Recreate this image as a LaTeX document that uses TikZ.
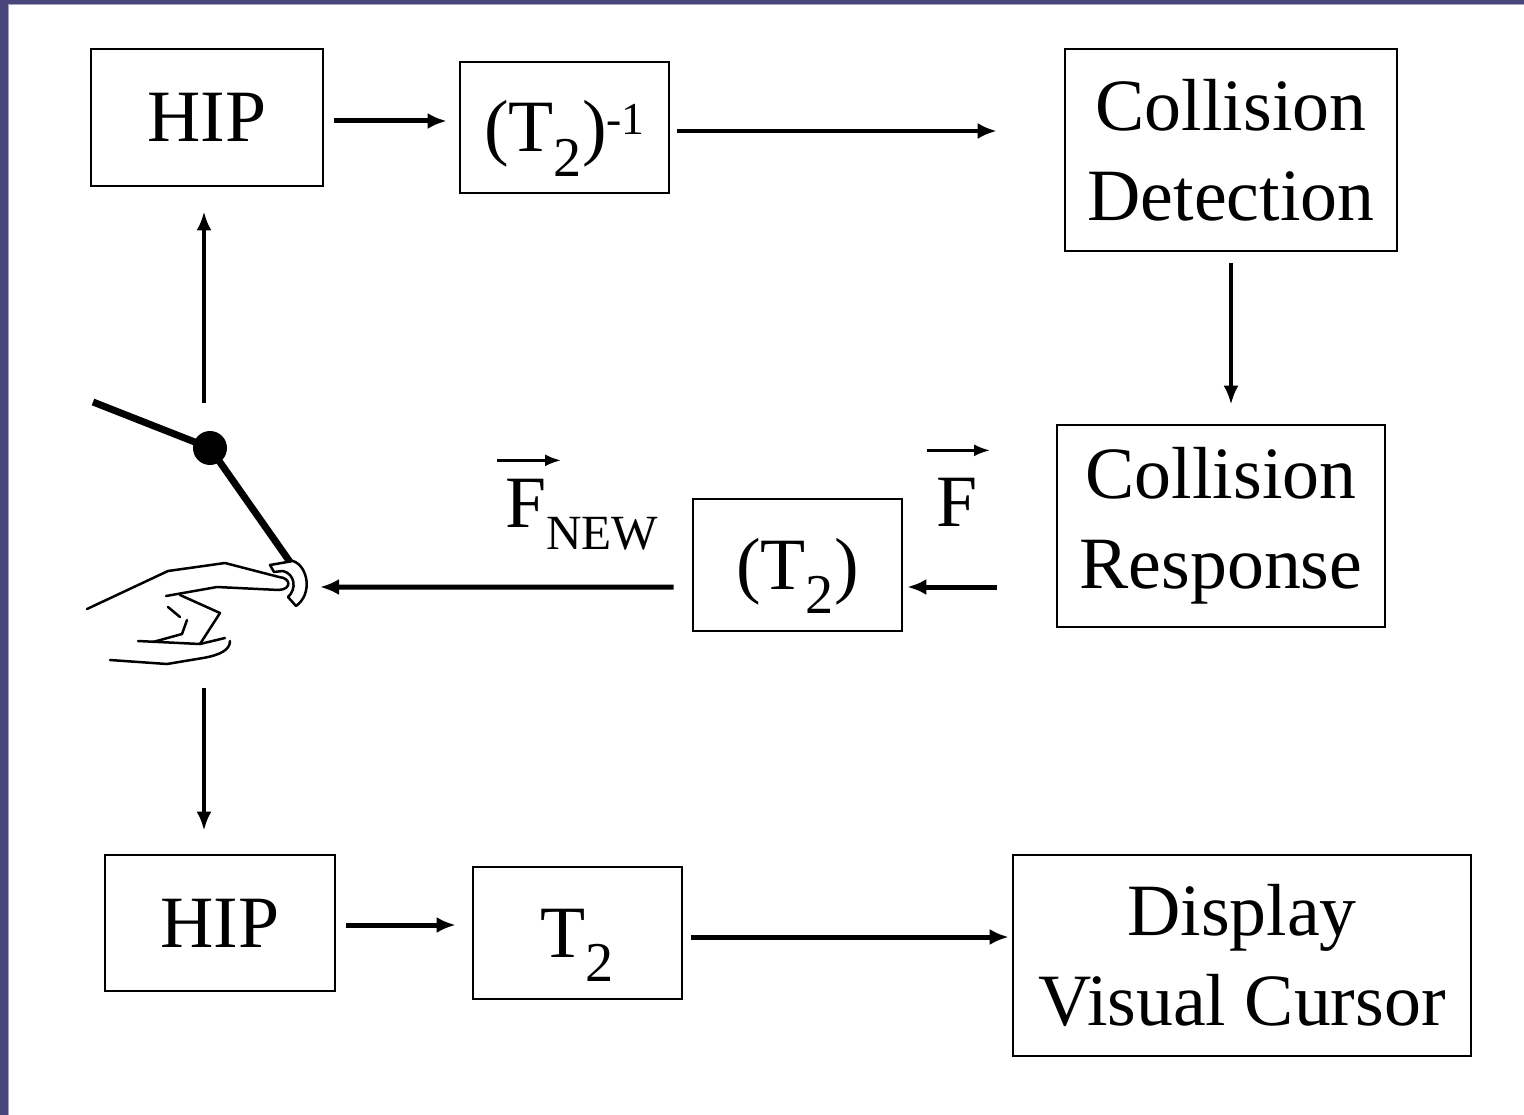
\documentclass[tikz,border=0pt]{standalone}
\usepackage{fontspec}
\setmainfont{Liberation Serif}
\usetikzlibrary{arrows.meta}
\definecolor{framepurple}{RGB}{75,70,122}
\definecolor{frameedge}{RGB}{165,160,195}
% lowered subscript and raised superscript in slide style
\newcommand\lowsub[1]{\raisebox{-14pt}{\fontsize{32}{32}\selectfont #1}}
\newcommand\highsup[1]{\raisebox{10pt}{\fontsize{26}{26}\selectfont #1}}
% keep the cap letters centred, ignoring parentheses and subscripts
\newcommand\capbox[1]{\smash{#1}\vphantom{H}}

\begin{document}
\begin{tikzpicture}[x=0.02cm,y=-0.02cm,
  box/.style={draw,line width=0.055cm,inner sep=0pt,align=center,font=\fontsize{42}{51}\selectfont},
  flow/.style={line width=0.1cm,-{Latex[length=0.38cm,width=0.32cm]}},
  vflow/.style={line width=0.075cm,-{Latex[length=0.38cm,width=0.3cm]}},
  vecbar/.style={line width=0.05cm,-{Latex[length=0.32cm,width=0.24cm]}},
  sketch/.style={line width=0.05cm,line cap=round,line join=round},
  lbl/.style={anchor=base west,inner sep=0pt,font=\fontsize{42}{42}\selectfont},
]
\useasboundingbox (0,0) rectangle (1524,1115);
\fill[white] (0,0) rectangle (1524,1115);
% slide frame
\fill[framepurple] (0,0) rectangle (8,1115);
\fill[framepurple] (0,0) rectangle (1524,4);
\fill[frameedge] (8,4) rectangle (9,1115);
\fill[frameedge] (8,4) rectangle (1524,5);

% blocks
\node[box,minimum width=4.64cm,minimum height=2.74cm] (hipa) at (207,117.5) {HIP};
\node[box,minimum width=4.18cm,minimum height=2.62cm] (tinv) at (564.5,127.5) {\capbox{(T\lowsub{2})\highsup{-1}}};
\node[box,minimum width=6.64cm,minimum height=4.04cm] (detect) at (1231,150) {Collision\\Detection};
\node[box,minimum width=6.56cm,minimum height=4.04cm] (respond) at (1221,526) {Collision\\Response};
\node[box,minimum width=4.18cm,minimum height=2.64cm] (tback) at (797.5,565) {\capbox{(T\lowsub{2})}};
\node[box,minimum width=4.6cm,minimum height=2.72cm] (hipb) at (220,923) {HIP};
\node[box,minimum width=4.18cm,minimum height=2.64cm] (tfwd) at (577.5,933) {\capbox{T\lowsub{2}}};
\node[box,minimum width=9.16cm,minimum height=4.02cm] (display) at (1242,955.5) {Display\\Visual Cursor};

% force labels
\node[lbl] (fnew) at (505,527) {F\raisebox{-13pt}{\fontsize{28}{28}\selectfont NEW}};
\node[lbl] (fold) at (936,526) {F};
\draw[vecbar] ([xshift=-0.16cm,yshift=0.36cm]fnew.north west) -- ++(64,0);
\draw[vecbar] ([xshift=-0.18cm,yshift=0.54cm]fold.north west) -- ++(63,0);

% haptic arm and hand
\coordinate (grip) at (204,403);
\coordinate (wrist) at (204,688);
\coordinate (fingertip) at (320,587);
\draw[line width=0.14cm] (93,402) -- (210,448) -- (290,562);
\fill (210,448) circle[radius=0.34cm];
\draw[sketch] (87,609) -- (168,571) -- (225,563) -- (279,577);
\draw[sketch] (166,596) -- (217,587) -- (279,590);
% thimble cap on the fingertip
\draw[sketch,fill=white] (270,565) -- (293,561) .. controls (308,566) and (313,594) .. (296,606)
  -- (288,597) .. controls (297,589) and (295,574) .. (283,571) -- (274,572) -- cycle;
\draw[sketch] (279,577) .. controls (291,578) and (292,589) .. (279,590);
\draw[sketch] (180,595) -- (220,613) -- (200,644);
\draw[sketch] (168,607) -- (180,617);
\draw[sketch] (187,620) -- (182,634) -- (153,642);
\draw[sketch] (138,641) -- (200,644) -- (225,638);
\draw[sketch] (110,660) -- (167,664) -- (203,658) .. controls (220,655) and (230,650) .. (230,641);

% connectors
\draw[flow,shorten <=0.2cm,shorten >=0.24cm] ([yshift=-0.07cm]hipa.east) -- ([yshift=-0.07cm]hipa.east -| tinv.west);
\draw[flow,shorten <=0.14cm,shorten >=1.34cm] ([yshift=-0.07cm]tinv.east) -- ([yshift=-0.07cm]tinv.east -| detect.west);
\draw[vflow,shorten <=0.22cm,shorten >=0.38cm] (detect.south) -- (detect.south |- respond.north);
\draw[flow,shorten <=1.18cm,shorten >=0.08cm] ([yshift=-0.44cm]tback.east -| respond.west) -- ([yshift=-0.44cm]tback.east);
\draw[flow,shorten <=0.36cm] ([yshift=-0.44cm]tback.west) -- (fingertip);
\draw[vflow,shorten >=0.48cm] (grip) -- (grip |- hipa.south);
\draw[vflow,shorten >=0.46cm] (wrist) -- (wrist |- hipb.north);
\draw[flow,shorten <=0.2cm,shorten >=0.32cm] ([yshift=-0.04cm]hipb.east) -- ([yshift=-0.04cm]hipb.east -| tfwd.west);
\draw[flow,shorten <=0.16cm,shorten >=0.06cm] ([yshift=-0.08cm]tfwd.east) -- ([yshift=-0.08cm]tfwd.east -| display.west);
\end{tikzpicture}
\end{document}
